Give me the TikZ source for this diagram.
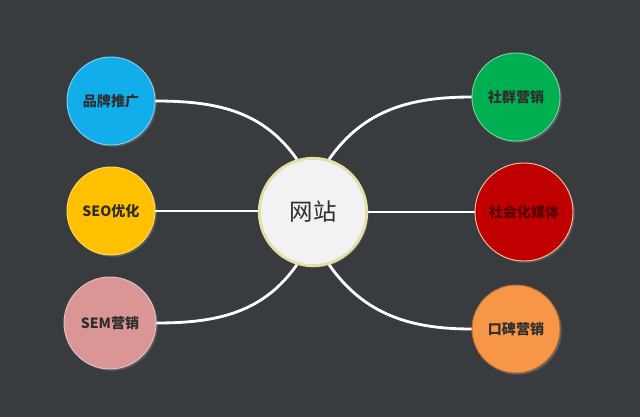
\documentclass[tikz,border=0pt]{standalone}
\usepackage{fontspec}
\setmainfont{Noto Sans CJK SC}
\usetikzlibrary{shadows}
\definecolor{bgdark}{HTML}{383C3F}
\definecolor{sitefill}{HTML}{F2F2F4}
\definecolor{siteline}{HTML}{E3DFA6}
\definecolor{inkdark}{HTML}{2E2E2E}
\definecolor{blueA}{HTML}{12AEEB}
\definecolor{yellowA}{HTML}{FFC000}
\definecolor{pinkA}{HTML}{D99694}
\definecolor{greenA}{HTML}{00B050}
\definecolor{redA}{HTML}{C00000}
\definecolor{orangeA}{HTML}{F79646}
\begin{document}
\begin{tikzpicture}[x=0.03cm,y=-0.03cm,
        spot/.style={circle,minimum size=2.64cm,inner sep=0pt,line width=0.8pt,
            text=inkdark,font=\bfseries\fontsize{12}{14}\selectfont,
            drop shadow={shadow xshift=1.5pt,shadow yshift=-1.5pt,opacity=0.45}},
        link/.style={white,line width=2.4pt}]
        \fill[bgdark] (0,0) rectangle (640,417);

        % center
        \node[circle,minimum size=3.22cm,fill=sitefill,draw=siteline,line width=2.5pt,
            text=inkdark,font=\fontsize{20}{24}\selectfont,
            drop shadow={shadow xshift=1.5pt,shadow yshift=-1.5pt,opacity=0.45}] (site) at (313,212) {网站};

        % left side
        \node[spot,fill=blueA,draw=blueA!55!white] (brand) at (111,101) {品牌推广};
        \node[spot,fill=yellowA,draw=yellowA!60!white] (seo) at (111,211) {SEO优化};
        \node[spot,fill=pinkA,draw=pinkA!60!white,minimum size=2.76cm] (sem) at (110,323) {SEM营销};

        % right side
        \node[spot,fill=greenA,draw=greenA!55!white] (group) at (516,97) {社群营销};
        \node[spot,fill=redA,draw=orangeA!60!white,minimum size=2.94cm,text=redA!45!black] (media) at (524,212) {社会化媒体};
        \node[spot,fill=orangeA,draw=orangeA!70!black] (word) at (516,329) {口碑营销};

        % links
        \draw[link] (brand.east) to[out=0,in=125] (site.107);
        \draw[link] (seo.east) -- (seo.east -| site.west);
        \draw[link] (sem.east) to[out=0,in=-125] (site.-107);
        \draw[link] (site.73) to[out=55,in=180] (group.west);
        \draw[link] (site.east) -- (site.east -| media.west);
        \draw[link] (site.-73) to[out=-55,in=180] (word.west);
    \end{tikzpicture}
\end{document}
